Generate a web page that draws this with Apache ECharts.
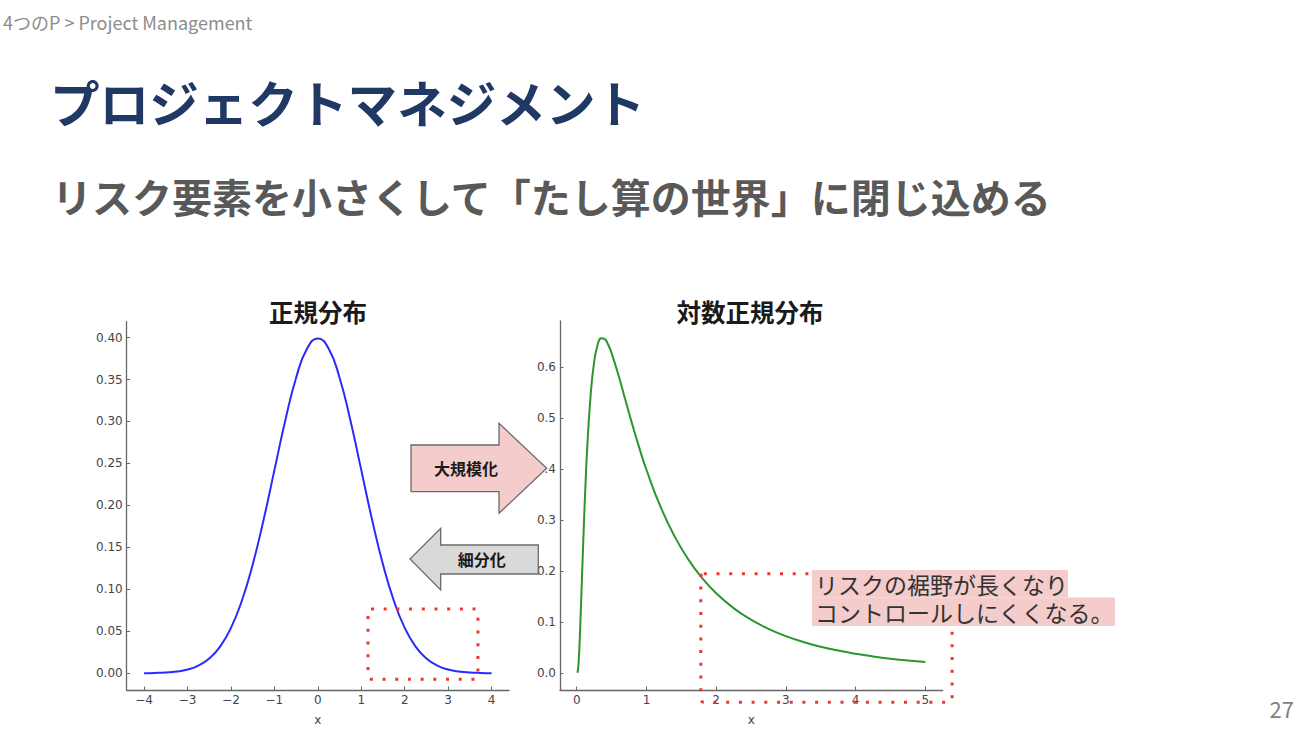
<!DOCTYPE html>
<html>
<head>
<meta charset="utf-8">
<title>プロジェクトマネジメント</title>
<script src="https://cdn.jsdelivr.net/npm/echarts@6/dist/echarts.min.js"></script>
<style>
  html, body { margin: 0; padding: 0; background: #fff; }
  #main { width: 1300px; height: 731px; }
</style>
</head>
<body>
<div id="main"></div>
<script>
// 正規分布
const normalX = [-4, -3.75, -3.5, -3.25, -3, -2.75, -2.5, -2.25, -2, -1.75, -1.5, -1.25, -1, -0.75, -0.5, -0.25,
  0, 0.25, 0.5, 0.75, 1, 1.25, 1.5, 1.75, 2, 2.25, 2.5, 2.75, 3, 3.25, 3.5, 3.75, 4];
const normalY = [0.0001, 0.0004, 0.0009, 0.002, 0.0044, 0.0091, 0.0175, 0.0317, 0.054, 0.0863, 0.1295, 0.1826, 0.242, 0.3011, 0.3521, 0.3867,
  0.3989, 0.3867, 0.3521, 0.3011, 0.242, 0.1826, 0.1295, 0.0863, 0.054, 0.0317, 0.0175, 0.0091, 0.0044, 0.002, 0.0009, 0.0004, 0.0001];

// 対数正規分布
const lognormX = [0.01, 0.02, 0.03, 0.04, 0.05, 0.075, 0.1, 0.125, 0.15, 0.2, 0.25, 0.3, 0.35, 0.4, 0.45, 0.5, 0.6, 0.7, 0.8, 0.9,
  1, 1.2, 1.4, 1.6, 1.8, 2, 2.25, 2.5, 2.75, 3, 3.25, 3.5, 3.75, 4, 4.25, 4.5, 4.75, 5];
const lognormY = [0.001, 0.0095, 0.0284, 0.0561, 0.0898, 0.1859, 0.2816, 0.3673, 0.44, 0.5463, 0.6104, 0.6442, 0.657, 0.6555, 0.6445, 0.6276, 0.5836, 0.5348, 0.4864, 0.4408,
  0.3989, 0.327, 0.2693, 0.2233, 0.1865, 0.1569, 0.1276, 0.1049, 0.087, 0.0727, 0.0613, 0.052, 0.0444, 0.0381, 0.033, 0.0286, 0.0249, 0.0219];

const normalXTicks = [-4, -3, -2, -1, 0, 1, 2, 3, 4];
const normalYTicks = [0, 0.05, 0.1, 0.15, 0.2, 0.25, 0.3, 0.35, 0.4];
const lognormXTicks = [0, 1, 2, 3, 4, 5];
const lognormYTicks = [0, 0.1, 0.2, 0.3, 0.4, 0.5, 0.6];

// red dotted boxes, data units: [x0, y0, x1, y1]
const normalTailBox = [1.154, -0.0071, 3.685, 0.0765];
const lognormTailBox = [1.78, -0.057, 5.385, 0.195];

const AXIS_COLOR = '#666';
const LABEL_COLOR = '#444';
const CJK = "'Noto Sans CJK JP', sans-serif";
const RED = '#e8392e';
const PINK = '#f4cccc';

const myChart = echarts.init(document.getElementById('main'), null, { renderer: 'svg' });

function zip(xs, ys) {
  return xs.map((x, i) => [x, ys[i]]);
}

function minusSign(v) {
  return String(v).replace('-', '\u2212');
}

function valueAxis(gridIndex, min, max, ticks, formatter, name) {
  return {
    type: 'value',
    gridIndex,
    min,
    max,
    name,
    nameLocation: 'middle',
    nameGap: 24,
    nameTextStyle: { color: LABEL_COLOR, fontSize: 12, fontFamily: 'DejaVu Sans' },
    splitLine: { show: false },
    axisLine: { onZero: false, lineStyle: { color: AXIS_COLOR, width: 1.3 } },
    axisTick: { inside: true, length: 3.5, customValues: ticks, lineStyle: { color: AXIS_COLOR, width: 1 } },
    axisLabel: {
      customValues: ticks,
      formatter,
      margin: 4,
      color: LABEL_COLOR,
      fontSize: 12,
      fontFamily: 'DejaVu Sans'
    }
  };
}

myChart.setOption({
  backgroundColor: '#fff',
  animation: false,
  grid: [
    { left: 126.7, top: 321.7, width: 382.3, height: 368.3 },
    { left: 560, top: 321, width: 382.7, height: 369 }
  ],
  xAxis: [
    valueAxis(0, -4.4, 4.4, normalXTicks, minusSign, 'x'),
    valueAxis(1, -0.24, 5.25, lognormXTicks, v => String(v), 'x')
  ],
  yAxis: [
    valueAxis(0, -0.02, 0.4189, normalYTicks, v => v.toFixed(2)),
    valueAxis(1, -0.0329, 0.6906, lognormYTicks, v => v.toFixed(1))
  ],
  series: [
    {
      name: '正規分布',
      type: 'line',
      xAxisIndex: 0,
      yAxisIndex: 0,
      smooth: true,
      showSymbol: false,
      lineStyle: { color: '#2a2aff', width: 2 },
      data: zip(normalX, normalY)
    },
    {
      name: '対数正規分布',
      type: 'line',
      xAxisIndex: 1,
      yAxisIndex: 1,
      smooth: true,
      showSymbol: false,
      lineStyle: { color: '#2c962c', width: 2 },
      data: zip(lognormX, lognormY)
    }
  ]
});

function dottedBox(gridIndex, box) {
  const p0 = myChart.convertToPixel({ gridIndex }, [box[0], box[3]]);
  const p1 = myChart.convertToPixel({ gridIndex }, [box[2], box[1]]);
  return {
    type: 'rect',
    z: 50,
    shape: { x: p0[0], y: p0[1], width: p1[0] - p0[0], height: p1[1] - p0[1], r: 3 },
    style: { fill: 'transparent', stroke: RED, lineWidth: 3, lineDash: [3, 9.7] }
  };
}

function text(x, y, str, font, color, align, extra) {
  return {
    type: 'text',
    z: 120,
    style: Object.assign({
      x, y, text: str, font, fill: color,
      align: align || 'left',
      verticalAlign: 'middle'
    }, extra || {})
  };
}

myChart.setOption({
  graphic: [
    // header
    text(3, 22, '4つのP > Project Management', '18px ' + CJK, '#8c8c8c'),
    text(50, 101, 'プロジェクトマネジメント', 'bold 49.6px ' + CJK, '#1f3864'),
    text(52, 196, 'リスク要素を小さくして「たし算の世界」に閉じ込める', 'bold 40px ' + CJK, '#595959'),
    text(1294, 708, '27', '22px ' + CJK, '#7f7f7f', 'right'),

    // panel titles
    text(317.9, 311.7, '正規分布', 'bold 24.5px ' + CJK, '#1a1a1a', 'center'),
    text(750, 311.7, '対数正規分布', 'bold 24.5px ' + CJK, '#1a1a1a', 'center'),

    dottedBox(0, normalTailBox),
    dottedBox(1, lognormTailBox),

    // arrows
    {
      type: 'polygon',
      z: 100,
      shape: { points: [[411, 445], [499, 445], [499, 423.3], [546.7, 468.3], [499, 513.3], [499, 491.7], [411, 491.7]] },
      style: { fill: PINK, stroke: '#6b6b6b', lineWidth: 1.3 }
    },
    {
      type: 'polygon',
      z: 100,
      shape: { points: [[410, 559], [440.7, 528.3], [440.7, 545], [538.3, 545], [538.3, 574], [440.7, 574], [440.7, 590]] },
      style: { fill: '#d9d9d9', stroke: '#6b6b6b', lineWidth: 1.3 }
    },
    text(466, 468, '大規模化', 'bold 16px ' + CJK, '#1a1a1a', 'center'),
    text(481.7, 559, '細分化', 'bold 16px ' + CJK, '#1a1a1a', 'center'),

    // annotation: highlight per line, then one two-line text
    { type: 'rect', z: 110, shape: { x: 812, y: 570, width: 256, height: 27.5 }, style: { fill: PINK } },
    { type: 'rect', z: 110, shape: { x: 812, y: 597.5, width: 303, height: 28.5 }, style: { fill: PINK } },
    text(815, 570, 'リスクの裾野が長くなり\nコントロールしにくくなる。', '23px ' + CJK, '#333', 'left',
      { verticalAlign: 'top', lineHeight: 28 })
  ]
});
</script>
</body>
</html>
